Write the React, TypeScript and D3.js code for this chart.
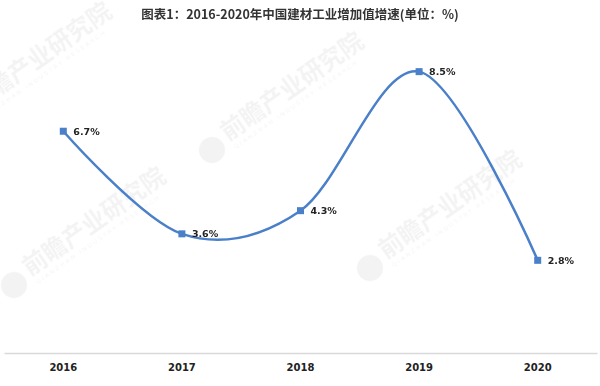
import * as d3 from "d3";
import React, { useRef, useEffect } from "react";

const width = 600;
const height = 386;
const margin = { top: 22, right: 3, bottom: 33, left: 4 };

const years = ["2016", "2017", "2018", "2019", "2020"];
const growth = [6.7, 3.6, 4.3, 8.5, 2.8];
const titleText = "图表1：2016-2020年中国建材工业增加值增速(单位：%)";
const watermarks = [
	{ x: -40, y: 120 },
	{ x: 212, y: 150 },
	{ x: 370, y: 268 },
	{ x: 14, y: 285 },
];

const lineColor = "#4a7fc9";

const App = () => {
	const d3Container = useRef<SVGSVGElement>(null);

	useEffect(() => {
		if (!d3Container.current) return;
		const svg = d3.select(d3Container.current);
		svg.selectAll("*").remove();
		renderChart(svg);
	}, []);

	const renderChart = (svg: any) => {
		const xScale = d3
			.scaleBand()
			.domain(years)
			.range([margin.left, width - margin.right]);
		const yScale = d3
			.scaleLinear()
			.domain([0, 10])
			.range([height - margin.bottom, margin.top]);
		const cx = (d: string) => (xScale(d) as number) + xScale.bandwidth() / 2;

		// faint watermarks
		const wm = svg.append("g").attr("opacity", 0.05);
		watermarks.forEach((w) => {
			const g = wm
				.append("g")
				.attr("transform", `translate(${w.x},${w.y}) rotate(-35)`);
			g.append("circle").attr("cx", 0).attr("cy", 0).attr("r", 13).attr("fill", "#000");
			g.append("text")
				.attr("x", 18)
				.attr("y", 2)
				.attr("font-family", "'Noto Sans CJK SC', sans-serif")
				.attr("font-size", 24)
				.attr("font-weight", "bold")
				.attr("fill", "#000")
				.text("前瞻产业研究院");
			g.append("text")
				.attr("x", 20)
				.attr("y", 13)
				.attr("font-family", "'DejaVu Sans', sans-serif")
				.attr("font-size", 6)
				.attr("letter-spacing", 2)
				.attr("fill", "#000")
				.text("QIANZHAN INDUSTRY RESEARCH");
		});

		svg
			.append("text")
			.attr("x", width / 2)
			.attr("y", 19)
			.attr("text-anchor", "middle")
			.attr("font-family", "'Noto Sans CJK SC', sans-serif")
			.attr("font-size", 12.5)
			.attr("font-weight", "bold")
			.attr("fill", "#333")
			.text(titleText);

		// x axis
		const xAxis = svg
			.append("g")
			.attr("transform", `translate(0,${yScale(0)})`)
			.call(d3.axisBottom(xScale).tickSize(0).tickPadding(11));
		xAxis.select(".domain").attr("stroke", "#d9d9d9").attr("stroke-width", 1.5);
		xAxis
			.selectAll("text")
			.attr("font-family", "'DejaVu Sans', sans-serif")
			.attr("font-size", 10)
			.attr("font-weight", "bold")
			.attr("fill", "#222");

		const line = d3
			.line<number>()
			.x((d, i) => cx(years[i]))
			.y((d) => yScale(d))
			.curve(d3.curveCardinal.tension(0));

		svg
			.append("path")
			.datum(growth)
			.attr("d", line)
			.attr("fill", "none")
			.attr("stroke", lineColor)
			.attr("stroke-width", 2.5);

		const pts = svg
			.selectAll(".pt")
			.data(growth)
			.enter()
			.append("g")
			.attr("class", "pt");

		pts
			.append("rect")
			.attr("x", (d: number, i: number) => cx(years[i]) - 3.5)
			.attr("y", (d: number) => yScale(d) - 3.5)
			.attr("width", 7)
			.attr("height", 7)
			.attr("fill", lineColor);

		pts
			.append("text")
			.attr("x", (d: number, i: number) => cx(years[i]) + 10)
			.attr("y", (d: number) => yScale(d))
			.attr("dy", "0.35em")
			.attr("font-family", "'DejaVu Sans', sans-serif")
			.attr("font-size", 9.5)
			.attr("font-weight", "bold")
			.attr("fill", "#222")
			.text((d: number) => `${d.toFixed(1)}%`);
	};

	return (
		<svg
			width={width}
			height={height}
			style={{ position: "absolute", left: 0, top: 0, background: "white" }}
			ref={d3Container}
		/>
	);
};

export default App;
